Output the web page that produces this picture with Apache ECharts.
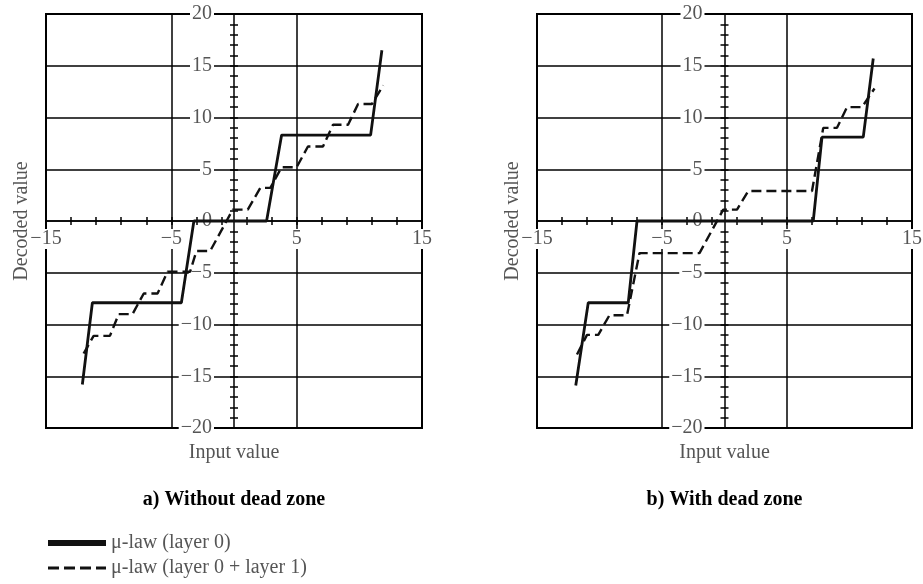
<!DOCTYPE html>
<html>
<head>
<meta charset="utf-8">
<title>mu-law decoding with and without dead zone</title>
<script src="https://cdn.jsdelivr.net/npm/echarts/dist/echarts.min.js"></script>
<style>
  html, body { margin: 0; padding: 0; background: #fff; }
  #chart { width: 923px; height: 584px; }
</style>
</head>
<body>
<div id="chart"></div>
<script>
// input value -> decoded value
const noDeadZoneLayer0 = [
  [-12.1, -15.8], [-11.3, -7.9], [-4.2, -7.9], [-3.2, 0], [2.6, 0],
  [3.8, 8.3], [10.9, 8.3], [11.8, 16.5]
]
const noDeadZoneLayer01 = [
  [-12.0, -12.8], [-11.2, -11.1], [-9.9, -11.1], [-9.2, -9.0], [-8.1, -9.0],
  [-7.2, -7.0], [-6.1, -7.0], [-5.3, -4.9], [-3.5, -4.9], [-3.0, -2.9],
  [-1.9, -2.9], [-0.1, 1.1], [1.1, 1.1], [2.1, 3.2], [2.9, 3.2],
  [3.8, 5.2], [5.0, 5.2], [5.9, 7.2], [7.1, 7.2], [7.9, 9.3],
  [9.1, 9.3], [9.9, 11.3], [11.0, 11.3], [11.9, 13.1]
]
const deadZoneLayer0 = [
  [-11.9, -15.9], [-10.9, -7.9], [-7.7, -7.9], [-7.0, 0], [7.1, 0],
  [7.8, 8.1], [11.1, 8.1], [11.9, 15.7]
]
const deadZoneLayer01 = [
  [-11.8, -12.9], [-11.0, -11.0], [-10.1, -11.0], [-9.2, -9.1], [-7.8, -9.1],
  [-6.8, -3.1], [-2.0, -3.1], [-0.1, 1.1], [1.0, 1.1], [1.9, 2.9],
  [7.0, 2.9], [7.9, 9.0], [9.0, 9.0], [9.8, 11.0], [11.0, 11.0], [12.0, 12.8]
]

const xRange = [-15, 15]
const xStep = 10
const yRange = [-20, 20]
const yStep = 5
const nameLayer0 = 'μ-law (layer 0)'
const nameLayer01 = 'μ-law (layer 0 + layer 1)'
const panelTitles = ['a) Without dead zone', 'b) With dead zone']

const FONT = '"Liberation Serif", "Times New Roman", serif'
const FONT_SIZE = 20
const black = '#000'
const labelGrey = '#555'
const fmt = v => String(v).replace('-', '\u2212')

const GRID_TOP = 14
const GRID_H = 414
const panels = [
  { left: 46, width: 376, solid: noDeadZoneLayer0, dashed: noDeadZoneLayer01 },
  { left: 537, width: 375, solid: deadZoneLayer0, dashed: deadZoneLayer01 }
]

const grid = []
const xAxis = []
const yAxis = []
const series = []
const graphic = []

panels.forEach((p, i) => {
  grid.push({
    left: p.left, top: GRID_TOP, width: p.width, height: GRID_H,
    outerBoundsMode: 'none', containLabel: false,
    show: true, borderColor: black, borderWidth: 2, backgroundColor: 'transparent'
  })
  // axes cross in the middle of the box, so shift them in from the edges
  const xShift = -GRID_H * (0 - yRange[0]) / (yRange[1] - yRange[0])
  const yShift = -p.width * (0 - xRange[0]) / (xRange[1] - xRange[0])
  const tickStyle = { color: black, width: 1.5 }

  xAxis.push({
    gridIndex: i, type: 'value', position: 'bottom', offset: xShift,
    min: xRange[0], max: xRange[1], interval: xStep,
    axisLine: { onZero: false, lineStyle: { color: black, width: 1.5 } },
    axisTick: { length: 4, lineStyle: tickStyle },
    minorTick: { show: true, splitNumber: 5, length: 4, lineStyle: tickStyle },
    axisLabel: {
      formatter: fmt, margin: 8, color: labelGrey, fontFamily: FONT, fontSize: FONT_SIZE,
      backgroundColor: '#fff', padding: [0, 1]
    },
    splitLine: { show: true, lineStyle: { color: black, width: 1.5 } }
  })
  // same axis again with inward ticks so the ticks cross the line
  xAxis.push({
    gridIndex: i, type: 'value', position: 'bottom', offset: xShift,
    min: xRange[0], max: xRange[1], interval: xStep,
    axisLine: { show: false, onZero: false },
    axisTick: { inside: true, length: 4, lineStyle: tickStyle },
    minorTick: { show: true, splitNumber: 5, length: 4, lineStyle: tickStyle },
    axisLabel: { show: false },
    splitLine: { show: false }
  })

  yAxis.push({
    gridIndex: i, type: 'value', position: 'left', offset: yShift,
    min: yRange[0], max: yRange[1], interval: yStep,
    axisLine: { onZero: false, lineStyle: { color: black, width: 1.5 } },
    axisTick: { length: 4, lineStyle: tickStyle },
    minorTick: { show: true, splitNumber: 5, length: 4, lineStyle: tickStyle },
    axisLabel: {
      formatter: fmt, margin: 20, color: labelGrey, fontFamily: FONT, fontSize: FONT_SIZE,
      backgroundColor: '#fff', padding: [0, 2]
    },
    splitLine: { show: true, lineStyle: { color: black, width: 1.5 } }
  })
  yAxis.push({
    gridIndex: i, type: 'value', position: 'left', offset: yShift,
    min: yRange[0], max: yRange[1], interval: yStep,
    axisLine: { show: false, onZero: false },
    axisTick: { inside: true, length: 4, lineStyle: tickStyle },
    minorTick: { show: true, splitNumber: 5, length: 4, lineStyle: tickStyle },
    axisLabel: { show: false },
    splitLine: { show: false }
  })

  const ax = i * 2
  series.push({
    name: nameLayer0, type: 'line', xAxisIndex: ax, yAxisIndex: ax,
    data: p.solid, symbol: 'none', z: 5, animation: false,
    itemStyle: { color: '#111' },
    lineStyle: { color: '#111', width: 2.8 }
  })
  series.push({
    name: nameLayer01, type: 'line', xAxisIndex: ax, yAxisIndex: ax,
    data: p.dashed, symbol: 'none', z: 4, animation: false,
    itemStyle: { color: '#111' },
    lineStyle: { color: '#111', width: 2.4, type: [10, 5] }
  })

  const cx = p.left + p.width / 2
  graphic.push({
    type: 'text', x: cx, y: 453,
    style: {
      text: 'Input value', align: 'center', verticalAlign: 'middle',
      textAlign: 'center', textVerticalAlign: 'middle',
      font: FONT_SIZE + 'px ' + FONT, fill: labelGrey
    }
  })
  graphic.push({
    type: 'text', x: p.left - 24, y: 221, rotation: Math.PI / 2,
    style: {
      text: 'Decoded value', align: 'center', verticalAlign: 'middle',
      textAlign: 'center', textVerticalAlign: 'middle',
      font: FONT_SIZE + 'px ' + FONT, fill: labelGrey
    }
  })
  graphic.push({
    type: 'text', x: cx, y: 500,
    style: {
      text: panelTitles[i], align: 'center', verticalAlign: 'middle',
      textAlign: 'center', textVerticalAlign: 'middle',
      font: 'bold ' + FONT_SIZE + 'px ' + FONT, fill: black
    }
  })
})

const chart = echarts.init(document.getElementById('chart'))
chart.setOption({
  backgroundColor: '#fff',
  animation: false,
  grid, xAxis, yAxis, series, graphic,
  legend: {
    orient: 'vertical', left: 45, top: 533, padding: 0,
    itemWidth: 58, itemHeight: 20, itemGap: 5,
    itemStyle: { opacity: 0, color: 'transparent', borderWidth: 0 },
    textStyle: { color: labelGrey, fontFamily: FONT, fontSize: FONT_SIZE },
    data: [
      { name: nameLayer0, lineStyle: { width: 6 } },
      { name: nameLayer01, lineStyle: { width: 3, type: [11, 5] } }
    ]
  }
})
</script>
</body>
</html>
